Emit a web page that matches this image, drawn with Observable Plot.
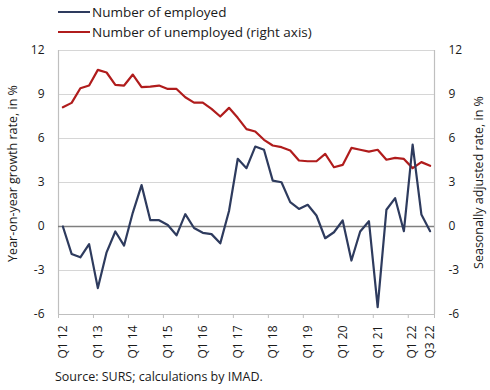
<!DOCTYPE html>
<html>
<head>
<meta charset="utf-8">
<script src="https://cdn.jsdelivr.net/npm/d3@7"></script>
<script src="https://cdn.jsdelivr.net/npm/@observablehq/plot@0.6"></script>
<style>
  body { margin: 0; background: #fff; font-family: "Open Sans", sans-serif; color: #1a1a1a; }
  #wrap { width: 490px; height: 390px; position: relative; overflow: hidden; }
  .legend { height: 42px; padding-left: 58px; padding-top: 2px; box-sizing: border-box; font-size: 13.5px; }
  .row { height: 20px; display: flex; align-items: center; }
  .sw { width: 32px; height: 2px; margin-right: 2px; }
  .caption { font-size: 12.5px; padding-left: 55px; line-height: 26px; }
  svg { display: block; overflow: visible; }
</style>
</head>
<body>
<div id="wrap">
  <div class="legend" id="legend"></div>
  <div id="chart"></div>
  <div class="caption" id="caption"></div>
</div>
<script>
const quarters = [
  "Q1 12","Q2 12","Q3 12","Q4 12",
  "Q1 13","Q2 13","Q3 13","Q4 13",
  "Q1 14","Q2 14","Q3 14","Q4 14",
  "Q1 15","Q2 15","Q3 15","Q4 15",
  "Q1 16","Q2 16","Q3 16","Q4 16",
  "Q1 17","Q2 17","Q3 17","Q4 17",
  "Q1 18","Q2 18","Q3 18","Q4 18",
  "Q1 19","Q2 19","Q3 19","Q4 19",
  "Q1 20","Q2 20","Q3 20","Q4 20",
  "Q1 21","Q2 21","Q3 21","Q4 21",
  "Q1 22","Q2 22","Q3 22"
];
const employed = [
  0.0, -1.87, -2.1, -1.2,
  -4.2, -1.76, -0.34, -1.3,
  0.95, 2.82, 0.43, 0.43,
  0.1, -0.6, 0.84, -0.1,
  -0.43, -0.52, -1.15, 1.06,
  4.62, 3.98, 5.45, 5.23,
  3.13, 3.02, 1.66, 1.2,
  1.48, 0.75, -0.8, -0.39,
  0.41, -2.32, -0.34, 0.36,
  -5.5, 1.14, 1.93, -0.32,
  5.59, 0.82, -0.32
];
const unemployed = [
  8.13, 8.43, 9.43, 9.61,
  10.68, 10.5, 9.66, 9.61,
  10.36, 9.5, 9.54, 9.61,
  9.38, 9.38, 8.81, 8.45,
  8.45, 8.02, 7.5, 8.09,
  7.41, 6.64, 6.48, 5.91,
  5.52, 5.41, 5.18, 4.5,
  4.45, 4.45, 4.95, 4.04,
  4.2, 5.36, 5.23, 5.11,
  5.23, 4.55, 4.68, 4.61,
  3.98, 4.39, 4.14
];
const seriesNames = ["Number of employed", "Number of unemployed (right axis)"];
const seriesColors = ["#2e3b5e", "#b01c1c"];
const yTicks = [-6, -3, 0, 3, 6, 9, 12];
const xTickLabels = ["Q1 12","Q1 13","Q1 14","Q1 15","Q1 16","Q1 17","Q1 18","Q1 19","Q1 20","Q1 21","Q1 22","Q3 22"];
const leftTitle = "Year-on-year growth rate, in %";
const rightTitle = "Seasonally adjusted rate, in %";
const sourceText = "Source: SURS; calculations by IMAD.";

// legend
const legend = document.getElementById("legend");
seriesNames.forEach((name, k) => {
  const row = document.createElement("div");
  row.className = "row";
  const sw = document.createElement("span");
  sw.className = "sw";
  sw.style.background = seriesColors[k];
  const t = document.createElement("span");
  t.textContent = name;
  row.appendChild(sw); row.appendChild(t);
  legend.appendChild(row);
});
document.getElementById("caption").textContent = sourceText;

const table = quarters.map((q, i) => ({i, q, employed: employed[i], unemployed: unemployed[i]}));
const n = quarters.length;
const labelPos = xTickLabels.map(l => quarters.indexOf(l));
const boundaries = xTickLabels.filter(l => l.startsWith("Q1")).map(l => quarters.indexOf(l) - 0.5).concat([n - 0.5]);
const gridTicks = yTicks.filter(t => t !== 0 && t !== yTicks[0]);

const chart = Plot.plot({
  width: 490,
  height: 322,
  marginTop: 8,
  marginBottom: 50,
  marginLeft: 58,
  marginRight: 56,
  x: {type: "linear", domain: [-0.5, n - 0.5]},
  y: {domain: [yTicks[0], yTicks[yTicks.length - 1]]},
  style: {fontFamily: "Open Sans, sans-serif", fontSize: "12px", color: "#1a1a1a", background: "white", overflow: "visible"},
  marks: [
    Plot.ruleY(gridTicks, {stroke: "#d6d6d6", strokeWidth: 1}),
    Plot.ruleY([yTicks[0]], {stroke: "#bfbfbf", strokeWidth: 1.2}),
    Plot.ruleX([-0.5, n - 0.5], {stroke: "#bfbfbf", strokeWidth: 1.2}),
    Plot.ruleY([0], {stroke: "#7f7f7f", strokeWidth: 1.6}),
    Plot.line(table, {x: "i", y: "unemployed", stroke: seriesColors[1], strokeWidth: 2.2}),
    Plot.line(table, {x: "i", y: "employed", stroke: seriesColors[0], strokeWidth: 2.2}),
    Plot.axisY({anchor: "left", ticks: yTicks, tickSize: 0, tickPadding: 14, tickFormat: d => String(d), label: null}),
    Plot.axisY({anchor: "right", ticks: yTicks, tickSize: 0, tickPadding: 14, tickFormat: d => String(d), label: null}),
    Plot.axisX({ticks: boundaries, tickSize: 4, stroke: "#bfbfbf", tickFormat: () => "", label: null}),
    Plot.axisX({ticks: labelPos, tickSize: 0, tickPadding: 11, tickRotate: -90, tickFormat: i => quarters[i], label: null}),
    Plot.text([leftTitle], {frameAnchor: "left", textAnchor: "middle", rotate: -90, dx: -46, dy: -9, fontSize: 12.5}),
    Plot.text([rightTitle], {frameAnchor: "right", textAnchor: "middle", rotate: -90, dx: 44, fontSize: 12.5})
  ]
});
document.getElementById("chart").appendChild(chart);
</script>
</body>
</html>
